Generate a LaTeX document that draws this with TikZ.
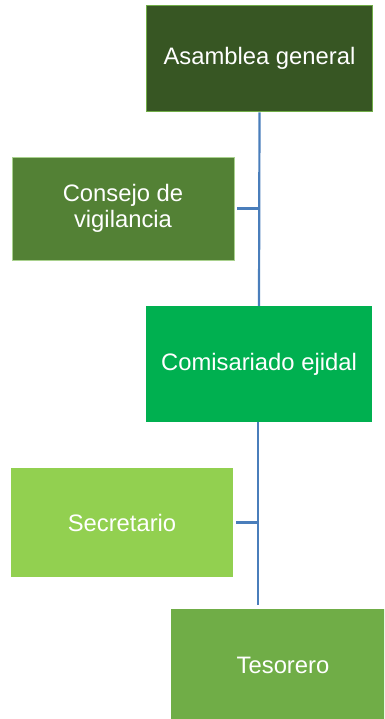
\documentclass[tikz,border=0pt]{standalone}
\usepackage{fontspec}
\setmainfont{Liberation Sans}
\definecolor{c1}{HTML}{375623}
\definecolor{c1b}{HTML}{70AD47}
\definecolor{c2}{HTML}{538135}
\definecolor{c2b}{HTML}{A9D18E}
\definecolor{c3}{HTML}{00B050}
\definecolor{c4}{HTML}{92D050}
\definecolor{c5}{HTML}{70AD47}
\definecolor{ln}{HTML}{4A7EBB}
\tikzset{
  box/.style={rectangle, text=white, align=center, inner sep=0pt,
    font=\fontsize{23.8}{26.5}\selectfont},
  conn/.style={draw=ln, line width=2.2pt}
}
\begin{document}
\begin{tikzpicture}[x=1pt,y=-1pt]
\useasboundingbox (0,0) rectangle (384,719);
\clip (0,0) rectangle (384,719);
\node[box, fill=c1, draw=c1b, line width=1.8pt, minimum width=226pt, minimum height=106pt] (a) at (259.5,58.5) {Asamblea general};
\node[box, fill=c2, draw=c2b, line width=0.8pt, minimum width=222pt, minimum height=103pt] (b) at (123,208.5) {Consejo de\\vigilancia};
\node[box, fill=c3, minimum width=226pt, minimum height=116pt] (c) at (259,364) {Comisariado ejidal};
\node[box, fill=c4, minimum width=222pt, minimum height=109pt] (d) at (122,522.5) {Secretario};
\node[box, fill=c5, minimum width=224pt, minimum height=112pt] (e) at (283,665) {Tesorero};
\coordinate (t2) at (258,605);
\draw[conn] (a.south) -- (c.north);
\draw[conn] ([xshift=3pt]b.east) -- (b.east -| a.south);
\draw[conn] ([xshift=-1pt]c.south) -- (t2);
\draw[conn] ([xshift=3pt]d.east) -- (d.east -| t2);
\end{tikzpicture}
\end{document}
